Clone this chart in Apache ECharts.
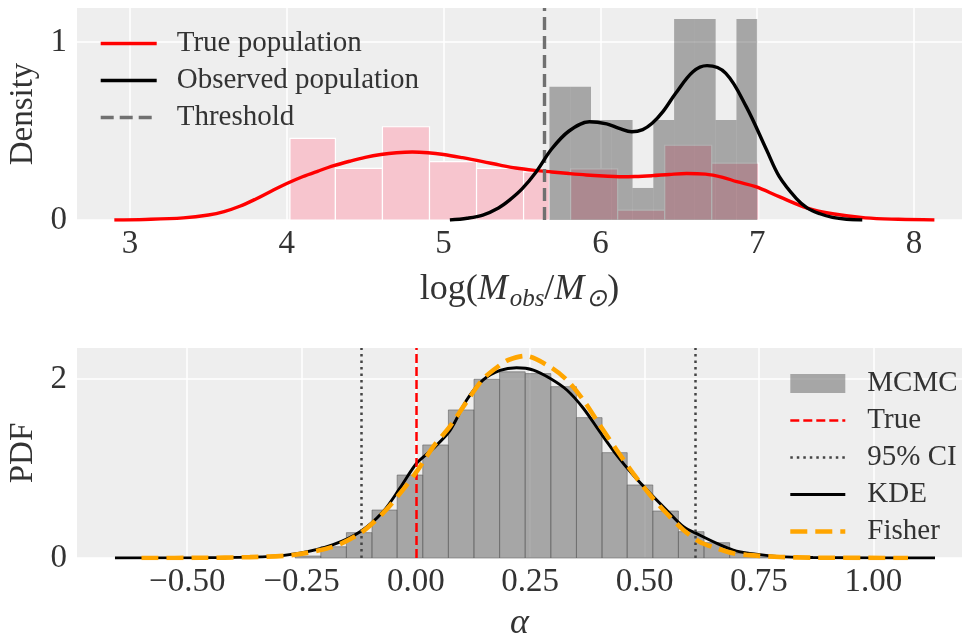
<!DOCTYPE html>
<html>
<head>
<meta charset="utf-8">
<script src="https://cdn.jsdelivr.net/npm/echarts@6/dist/echarts.min.js"></script>
<style>
html,body{margin:0;padding:0;background:#fff;}
#chart{width:962px;height:637px;}
</style>
</head>
<body>
<div id="chart"></div>
<script>
// ---------------- DATA ----------------
// Top panel: log(M_obs/M_sun)
const trueHistLeft   = [4.02, 4.31, 4.61, 4.91, 5.21, 5.51, 5.81, 6.11, 6.41, 6.71];
const trueHistRight  = [4.31, 4.61, 4.91, 5.21, 5.51, 5.675, 6.11, 6.41, 6.71, 7.01];
const trueHistHeight = [0.459, 0.29, 0.524, 0.328, 0.29, 0.27, 0.287, 0.056, 0.42, 0.32];

const obsHistLeft   = [5.675, 5.8075, 5.94, 6.0725, 6.205, 6.3375, 6.47, 6.6025, 6.735, 6.8675];
const obsHistRight  = [5.8075, 5.94, 6.0725, 6.205, 6.3375, 6.47, 6.6025, 6.735, 6.8675, 7.0];
const obsHistHeight = [0.749, 0.749, 0.562, 0.562, 0.18, 0.562, 1.129, 1.129, 0.562, 1.129];

const trueKdeX = [2.90, 3.10, 3.34, 3.50, 3.60, 3.70, 3.80, 3.90, 4.00, 4.10, 4.20, 4.30, 4.40, 4.50, 4.60, 4.70, 4.80, 4.90, 5.00, 5.12, 5.25, 5.36, 5.46, 5.58, 5.69, 5.80, 5.91, 6.02, 6.12, 6.22, 6.33, 6.44, 6.55, 6.67, 6.78, 6.87, 6.99, 7.14, 7.32, 7.48, 7.69, 7.90, 8.13];
const trueKdeY = [0.0, 0.003, 0.012, 0.028, 0.047, 0.077, 0.117, 0.162, 0.205, 0.243, 0.275, 0.305, 0.33, 0.352, 0.368, 0.378, 0.382, 0.378, 0.368, 0.35, 0.328, 0.308, 0.292, 0.279, 0.27, 0.261, 0.253, 0.247, 0.243, 0.244, 0.249, 0.256, 0.261, 0.258, 0.24, 0.215, 0.187, 0.131, 0.067, 0.035, 0.012, 0.004, 0.0];

const obsKdeX = [5.04, 5.15, 5.25, 5.35, 5.42, 5.50, 5.59, 5.69, 5.80, 5.93, 6.04, 6.12, 6.20, 6.27, 6.33, 6.40, 6.48, 6.59, 6.68, 6.80, 6.93, 7.06, 7.14, 7.25, 7.32, 7.40, 7.48, 7.57, 7.67];
const obsKdeY = [0.0, 0.01, 0.028, 0.068, 0.112, 0.175, 0.27, 0.40, 0.50, 0.552, 0.54, 0.515, 0.496, 0.508, 0.543, 0.61, 0.712, 0.833, 0.867, 0.824, 0.637, 0.393, 0.245, 0.12, 0.067, 0.035, 0.015, 0.004, 0.0];

const threshold = 5.645;

// Bottom panel: alpha
const mcmcEdges  = [-0.264, -0.208, -0.152, -0.096, -0.041, 0.015, 0.071, 0.127, 0.183, 0.239, 0.295, 0.351, 0.407, 0.462, 0.518, 0.574, 0.630, 0.686, 0.742, 0.798];
const mcmcHeight = [0.022, 0.126, 0.283, 0.536, 0.927, 1.263, 1.654, 1.997, 2.08, 2.06, 1.914, 1.568, 1.177, 0.816, 0.525, 0.294, 0.171, 0.052, 0.01];

const kdeX = [-0.658, -0.472, -0.326, -0.254, -0.181, -0.122, -0.072, -0.035, 0.0015, 0.038, 0.074, 0.111, 0.147, 0.184, 0.220, 0.257, 0.293, 0.330, 0.366, 0.402, 0.439, 0.475, 0.512, 0.548, 0.585, 0.620, 0.658, 0.694, 0.730, 0.796, 0.868, 0.993, 1.135];
const kdeY = [0.0, 0.003, 0.015, 0.055, 0.15, 0.294, 0.517, 0.78, 1.058, 1.225, 1.42, 1.765, 1.989, 2.095, 2.125, 2.10, 2.008, 1.877, 1.673, 1.411, 1.15, 0.927, 0.723, 0.536, 0.35, 0.257, 0.164, 0.089, 0.052, 0.015, 0.005, 0.001, 0.0];

const fisherX = [-0.6, -0.472, -0.363, -0.269, -0.181, -0.122, -0.072, -0.035, 0.0015, 0.038, 0.074, 0.111, 0.147, 0.184, 0.202, 0.238, 0.293, 0.330, 0.366, 0.402, 0.439, 0.475, 0.512, 0.548, 0.585, 0.620, 0.658, 0.694, 0.723, 0.796, 0.868, 1.076];
const fisherY = [0.0, 0.002, 0.01, 0.034, 0.126, 0.276, 0.5, 0.72, 0.964, 1.244, 1.467, 1.746, 2.0, 2.156, 2.212, 2.257, 2.137, 1.989, 1.765, 1.486, 1.207, 0.946, 0.704, 0.5, 0.313, 0.182, 0.108, 0.052, 0.035, 0.012, 0.004, 0.0];

const trueAlpha = 0.0;
const ciBounds = [-0.122, 0.609];

// Tick labels
const topXTicks = [3, 4, 5, 6, 7, 8];
const topYTicks = [0, 1];
const botXTicks = [-0.5, -0.25, 0, 0.25, 0.5, 0.75, 1.0];
const botYTicks = [0, 2];

// ---------------- CHART ----------------
const FONT = 'Liberation Serif';
const TXT = '#333333';
const zip = (xs, ys) => xs.map((x, i) => [x, ys[i]]);

function histSeries(name, lefts, rights, heights, fill, stroke, lw, xi, yi, z) {
  return {
    type: 'custom', name: name, xAxisIndex: xi, yAxisIndex: yi, z: z,
    itemStyle: { color: fill },
    data: lefts.map((l, i) => [l, rights[i], heights[i]]),
    encode: { x: [0, 1], y: 2 },
    renderItem: function (params, api) {
      const p0 = api.coord([api.value(0), 0]);
      const p1 = api.coord([api.value(1), api.value(2)]);
      return {
        type: 'rect',
        shape: { x: p0[0], y: p1[1], width: p1[0] - p0[0], height: p0[1] - p1[1] },
        style: { fill: fill, stroke: stroke, lineWidth: lw }
      };
    }
  };
}

function axisLabelStyle(fmt, margin, ticks) {
  return { show: true, color: TXT, fontFamily: FONT, fontSize: 33, margin: margin, formatter: fmt, customValues: ticks };
}

const chart = echarts.init(document.getElementById('chart'), null, { renderer: 'canvas' });

const fmtBot = v => (v < 0 ? '\u2212' : '') + Math.abs(v).toFixed(2);
const gridLine = { show: true, lineStyle: { color: '#ffffff', width: 1.5 } };

const option = {
  animation: false,
  backgroundColor: '#ffffff',
  textStyle: { fontFamily: FONT },
  grid: [
    { left: 77, top: 8, right: 0, height: 212, show: true, backgroundColor: '#eeeeee', borderWidth: 0, containLabel: false, outerBoundsMode: 'none' },
    { left: 77, top: 348, right: 0, height: 210, show: true, backgroundColor: '#eeeeee', borderWidth: 0, containLabel: false, outerBoundsMode: 'none' }
  ],
  xAxis: [
    {
      type: 'value', gridIndex: 0, min: 2.662, max: 8.306,
      axisLine: { show: false },
      axisTick: { show: false, customValues: topXTicks },
      axisLabel: axisLabelStyle(v => String(v), 8, topXTicks),
      splitLine: gridLine,
      name: '{n|log(}{i|M}{s|obs}{n|/}{i|M}{s|\u2299}{n|)}',
      nameLocation: 'middle', nameGap: 48,
      nameTextStyle: {
        color: TXT,
        rich: {
          n: { fontFamily: FONT, fontSize: 36, color: TXT, lineHeight: 44, verticalAlign: 'middle' },
          i: { fontFamily: FONT, fontStyle: 'italic', fontSize: 36, color: TXT, lineHeight: 44, verticalAlign: 'middle', padding: [0, 2, 0, 0] },
          s: { fontFamily: FONT, fontStyle: 'italic', fontSize: 25, color: TXT, lineHeight: 44, verticalAlign: 'bottom' }
        }
      }
    },
    {
      type: 'value', gridIndex: 1, min: -0.741, max: 1.194,
      axisLine: { show: false },
      axisTick: { show: false, customValues: botXTicks },
      axisLabel: axisLabelStyle(fmtBot, 8, botXTicks),
      splitLine: gridLine,
      name: '\u03b1',
      nameLocation: 'middle', nameGap: 48,
      nameTextStyle: { color: TXT, fontFamily: FONT, fontStyle: 'italic', fontSize: 36 }
    }
  ],
  yAxis: [
    {
      type: 'value', gridIndex: 0, min: 0, max: 1.191,
      axisLine: { show: false },
      axisTick: { show: false, customValues: topYTicks },
      axisLabel: axisLabelStyle(v => String(v), 10, topYTicks),
      splitLine: gridLine,
      name: 'Density', nameLocation: 'middle', nameGap: 37,
      nameTextStyle: { color: TXT, fontFamily: FONT, fontSize: 33 }
    },
    {
      type: 'value', gridIndex: 1, min: 0, max: 2.346,
      axisLine: { show: false },
      axisTick: { show: false, customValues: botYTicks },
      axisLabel: axisLabelStyle(v => String(v), 10, botYTicks),
      splitLine: gridLine,
      name: 'PDF', nameLocation: 'middle', nameGap: 37,
      nameTextStyle: { color: TXT, fontFamily: FONT, fontSize: 33 }
    }
  ],
  legend: [
    {
      left: 99, top: 29, padding: 0, orient: 'vertical', itemWidth: 56, itemHeight: 14, itemGap: 8,
      itemStyle: { opacity: 0 },
      lineStyle: { width: 'inherit' },
      textStyle: { color: TXT, fontFamily: FONT, fontSize: 29, lineHeight: 28, padding: [0, 0, 0, 15] },
      data: ['True population', 'Observed population', 'Threshold'],
      selectedMode: false
    },
    {
      left: 788, top: 369, padding: 0, orient: 'vertical', itemWidth: 55, itemHeight: 19, itemGap: 8,
      itemStyle: { opacity: 0 },
      lineStyle: { width: 'inherit' },
      textStyle: { color: TXT, fontFamily: FONT, fontSize: 29, lineHeight: 28, padding: [0, 0, 0, 17] },
      data: [{ name: 'MCMC', icon: 'rect', itemStyle: { opacity: 1 } }, 'True', '95% CI', 'KDE', 'Fisher'],
      selectedMode: false
    }
  ],
  series: [
    // ---- top ----
    histSeries('True hist', trueHistLeft, trueHistRight, trueHistHeight, '#f7c5ce', '#ffffff', 1.2, 0, 0, 1),
    histSeries('Observed hist', obsHistLeft, obsHistRight, obsHistHeight, 'rgba(0,0,0,0.3)', null, 0, 0, 0, 2),
    {
      type: 'line', name: 'Threshold', xAxisIndex: 0, yAxisIndex: 0, z: 3, data: [],
      symbol: 'none',
      lineStyle: { color: '#707070', width: 3.4, type: [13, 6] },
      itemStyle: { color: '#707070' },
      markLine: {
        silent: true, symbol: 'none', label: { show: false },
        lineStyle: { color: '#707070', width: 3.4, type: [13, 6] },
        data: [{ xAxis: threshold }]
      }
    },
    {
      type: 'line', name: 'True population', xAxisIndex: 0, yAxisIndex: 0, z: 4,
      data: zip(trueKdeX, trueKdeY), symbol: 'none', showSymbol: false, smooth: 0.35,
      lineStyle: { color: '#ff0000', width: 3.4 }, itemStyle: { color: '#ff0000' }
    },
    {
      type: 'line', name: 'Observed population', xAxisIndex: 0, yAxisIndex: 0, z: 5,
      data: zip(obsKdeX, obsKdeY), symbol: 'none', showSymbol: false, smooth: 0.35,
      lineStyle: { color: '#000000', width: 3.4 }, itemStyle: { color: '#000000' }
    },
    // ---- bottom ----
    histSeries('MCMC', mcmcEdges.slice(0, -1), mcmcEdges.slice(1), mcmcHeight, 'rgba(128,128,128,0.65)', 'rgba(90,90,90,0.8)', 0.7, 1, 1, 1),
    {
      type: 'line', name: 'True', xAxisIndex: 1, yAxisIndex: 1, z: 3, data: [],
      symbol: 'none',
      lineStyle: { color: '#ff0000', width: 2.5, type: [9, 4] },
      itemStyle: { color: '#ff0000' },
      markLine: {
        silent: true, symbol: 'none', label: { show: false },
        lineStyle: { color: '#ff0000', width: 2.5, type: [9, 4] },
        data: [{ xAxis: trueAlpha }]
      }
    },
    {
      type: 'line', name: '95% CI', xAxisIndex: 1, yAxisIndex: 1, z: 3, data: [],
      symbol: 'none',
      lineStyle: { color: '#444444', width: 2.5, type: [2.5, 4] },
      itemStyle: { color: '#444444' },
      markLine: {
        silent: true, symbol: 'none', label: { show: false },
        lineStyle: { color: '#444444', width: 2.5, type: [2.5, 4] },
        data: ciBounds.map(v => ({ xAxis: v }))
      }
    },
    {
      type: 'line', name: 'KDE', xAxisIndex: 1, yAxisIndex: 1, z: 4,
      data: zip(kdeX, kdeY), symbol: 'none', showSymbol: false, smooth: 0.3,
      lineStyle: { color: '#000000', width: 2.9 }, itemStyle: { color: '#000000' }
    },
    {
      type: 'line', name: 'Fisher', xAxisIndex: 1, yAxisIndex: 1, z: 5,
      data: zip(fisherX, fisherY), symbol: 'none', showSymbol: false, smooth: 0.3,
      lineStyle: { color: '#ffa500', width: 4.6, type: [17, 8] }, itemStyle: { color: '#ffa500' }
    }
  ]
};

chart.setOption(option);
</script>
</body>
</html>
